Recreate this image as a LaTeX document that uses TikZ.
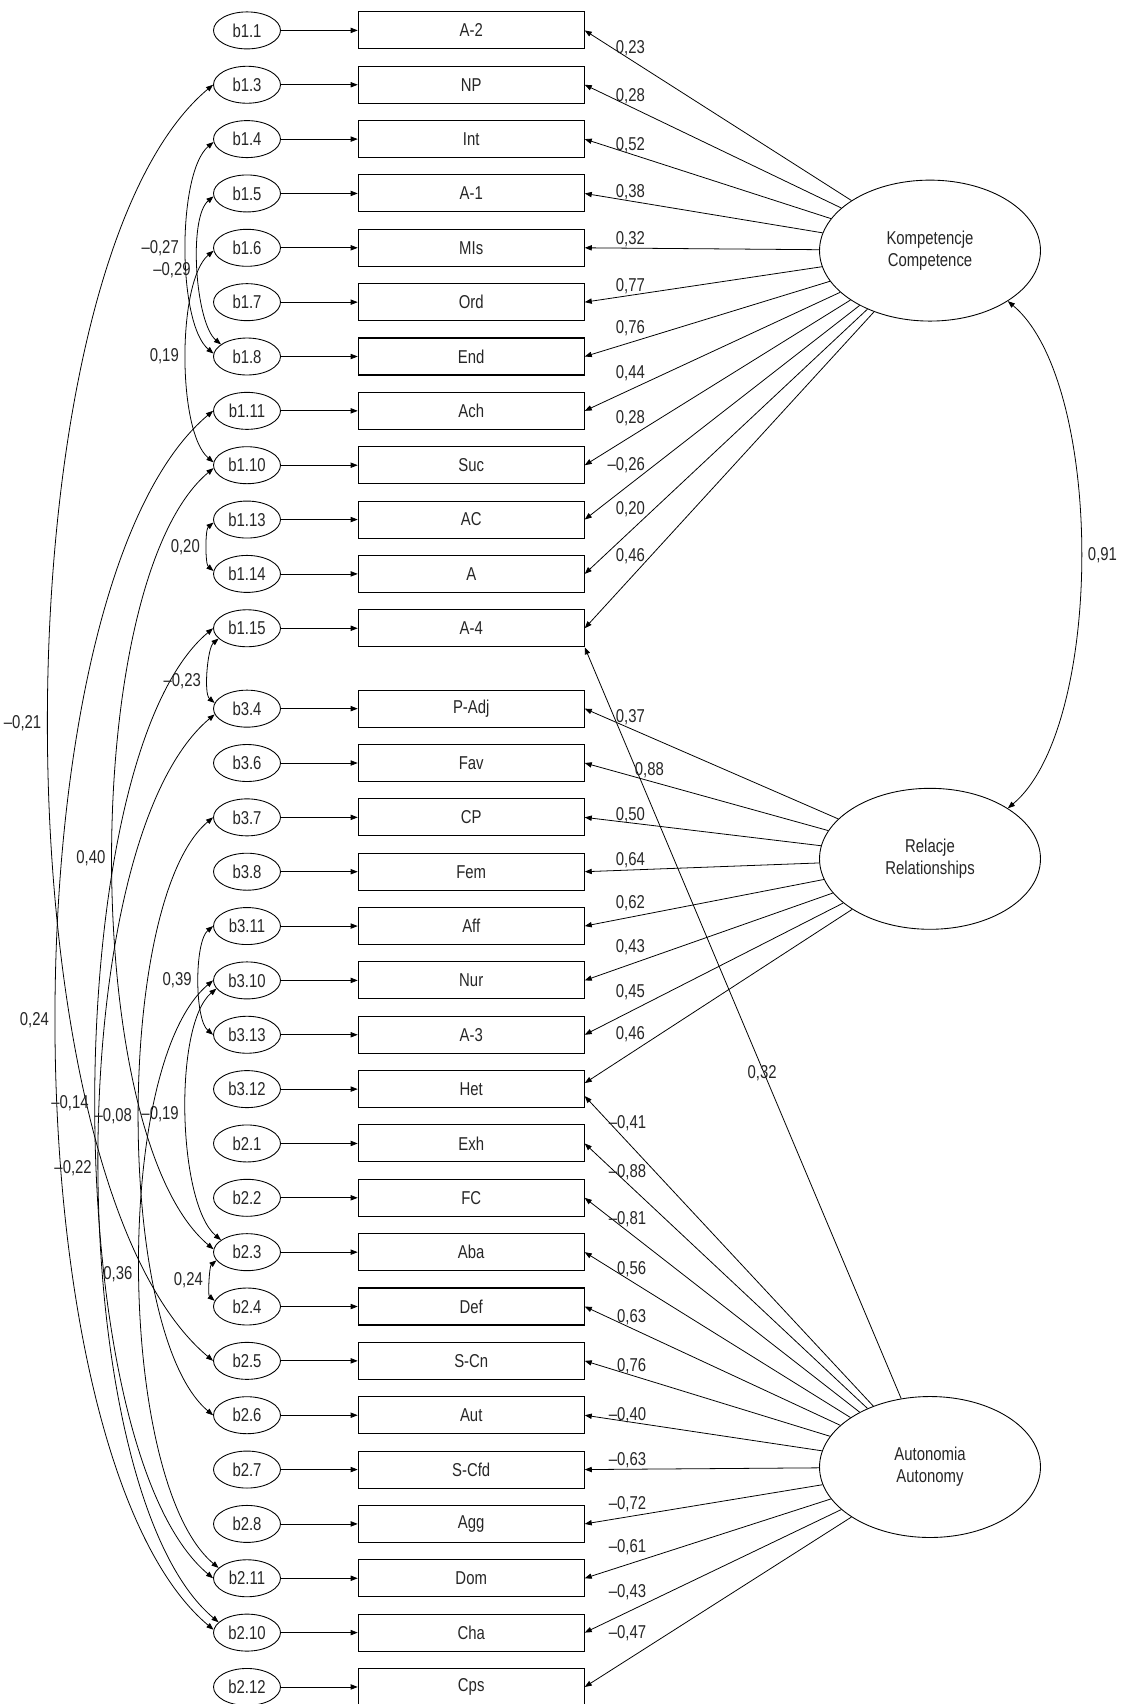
\documentclass[tikz,border=0pt]{standalone}
\usepackage{fontspec}
\newfontfamily\narrowsf[FakeStretch=0.8]{Liberation Sans}
\usetikzlibrary{shapes.geometric,arrows.meta,positioning}

\begin{document}
\begin{tikzpicture}[x=0.02cm,y=-0.02cm,
    every node/.style={font=\narrowsf\fontsize{10.6}{12.7}\selectfont, text=black!85},
    err/.style={draw, ellipse, minimum width=1.34cm, minimum height=0.74cm, inner sep=0pt, line width=0.5pt},
    obs/.style={draw, rectangle, minimum width=4.52cm, minimum height=0.74cm, inner sep=0pt, line width=0.6pt},
    lat/.style={draw, ellipse, minimum width=4.42cm, minimum height=2.82cm, align=center, line width=0.5pt},
    reg/.style={-{Triangle[length=4pt,width=3pt]}, line width=0.45pt},
    cov/.style={{Triangle[length=4pt,width=3pt]}-{Triangle[length=4pt,width=3pt]}, line width=0.45pt},
    bow/.style={out=220, in=140, looseness=0.575},
    wt/.style={inner sep=0pt, anchor=east},
    cw/.style={inner sep=0pt, left=4pt}]
  \useasboundingbox (0,0) rectangle (1124,1704);

  \foreach \i/\ename/\oname in {1/b1.1/A-2, 2/b1.3/NP, 3/b1.4/Int, 4/b1.5/A-1, 5/b1.6/MIs,
      6/b1.7/Ord, 7/b1.8/End, 8/b1.11/Ach, 9/b1.10/Suc, 10/b1.13/AC, 11/b1.14/A, 12/b1.15/A-4,
      13/b3.4/P-Adj, 14/b3.6/Fav, 15/b3.7/CP, 16/b3.8/Fem, 17/b3.11/Aff, 18/b3.10/Nur,
      19/b3.13/A-3, 20/b3.12/Het, 21/b2.1/Exh, 22/b2.2/FC, 23/b2.3/Aba, 24/b2.4/Def,
      25/b2.5/S-Cn, 26/b2.6/Aut, 27/b2.7/S-Cfd, 28/b2.8/Agg, 29/b2.11/Dom, 30/b2.10/Cha,
      31/b2.12/Cps}{
    \pgfmathsetmacro{\rowy}{(\i<13) ? (30.4+54.35*(\i-1)) : (708.65+54.35*(\i-13))}
    \node[err] (e\i) at (247,\rowy) {\ename};
    \node[obs, right=1.536cm of e\i] (v\i) {\oname};
    \draw[reg] (e\i) -- (v\i);
  }

  \node[lat] (komp) at (930,250.6) {Kompetencje\\Competence};
  \node[lat] (rel) at (930,858.8) {Relacje\\Relationships};
  \node[lat] (auto) at (930,1467) {Autonomia\\Autonomy};

  \foreach \i in {1,...,12} \draw[reg] (komp) -- (v\i.east);
  \foreach \i in {13,...,19} \draw[reg] (rel) -- (v\i.east);
  \draw[reg] (rel) -- ([yshift=0.12cm]v20.east);
  \draw[reg] (auto) -- ([yshift=-0.14cm]v20.east);
  \foreach \i in {21,...,31} \draw[reg] (auto) -- (v\i.east);
  \draw[reg] (auto) -- (v12.south east);

  \foreach \x/\y/\w [count=\k] in {645.3/47.8/{0,23}, 645.3/95.9/{0,28}, 645.3/144.9/{0,52},
      645.3/191.8/{0,38}, 645.3/238.8/{0,32}, 645.3/285.7/{0,77}, 645.3/328.6/{0,76},
      645.3/373.5/{0,44}, 645.3/418.4/{0,28}, 645.3/465.3/{–0,26}, 645.3/509.4/{0,20},
      645.3/555.9/{0,46}, 645.3/717.6/{0,37}, 664.3/770.4/{0,88}, 645.3/815.2/{0,50},
      645.3/860/{0,64}, 645.3/903.2/{0,62}, 645.3/947.2/{0,43}, 645.3/992/{0,45},
      645.3/1034.5/{0,46}, 777/1073.5/{0,32}, 646.5/1123.1/{–0,41}, 646.5/1172/{–0,88},
      646.5/1219.4/{–0,81}, 646.5/1268.7/{0,56}, 646.5/1317.6/{0,63}, 646.5/1365.8/{0,76},
      646.5/1414.7/{–0,40}, 646.5/1460.2/{–0,63}, 646.5/1504.5/{–0,72}, 646.5/1546.8/{–0,61},
      646.5/1592.3/{–0,43}, 646.5/1633.5/{–0,47}}
    \node[wt] (lk\k) at (\x,\y) {\w};

  \draw[cov] (e2.west) to[bow] node[cw] {–0,21} (e25.west);
  \draw[cov] (e8.west) to[bow] node[cw] {0,24} (e30.175);
  \draw[cov] (e9.185) to[bow] node[cw] {0,40} (e23.175);
  \draw[cov] (e12.west) to[bow, looseness=0.55] node[cw] {–0,14} (e29.180);
  \draw[cov] (e13.190) to[bow] node[cw] {–0,22} (e30.160);
  \draw[cov] (e15.west) to[bow, looseness=0.55] node[cw] {–0,08} (e26.west);
  \draw[cov] (e18.195) to[bow] node[cw] {–0,19} (e23.155);
  \draw[cov] (e18.west) to[bow] node[cw] {0,36} (e29.160);
  \draw[cov] (e3.185) to[bow] node[cw] {–0,27} (e7.175);
  \draw[cov] (e4.185) to[bow] node[cw] {–0,29} (e7.155);
  \draw[cov] (e5.185) to[bow] node[cw] {0,19} (e9.175);
  \draw[cov] (e10.185) to[bow] node[cw] {0,20} (e11.175);
  \draw[cov] (e12.200) to[bow] node[cw, yshift=-0.2cm] {–0,23} (e13.170);
  \draw[cov] (e17.west) to[bow] node[cw] {0,39} (e19.west);
  \draw[cov] (e23.195) to[bow] node[cw] {0,24} (e24.170);

  \draw[cov] (komp.-33) to[out=-40, in=40, looseness=0.64] node[right=4pt, inner sep=0pt] {0,91} (rel.33);
\end{tikzpicture}
\end{document}
